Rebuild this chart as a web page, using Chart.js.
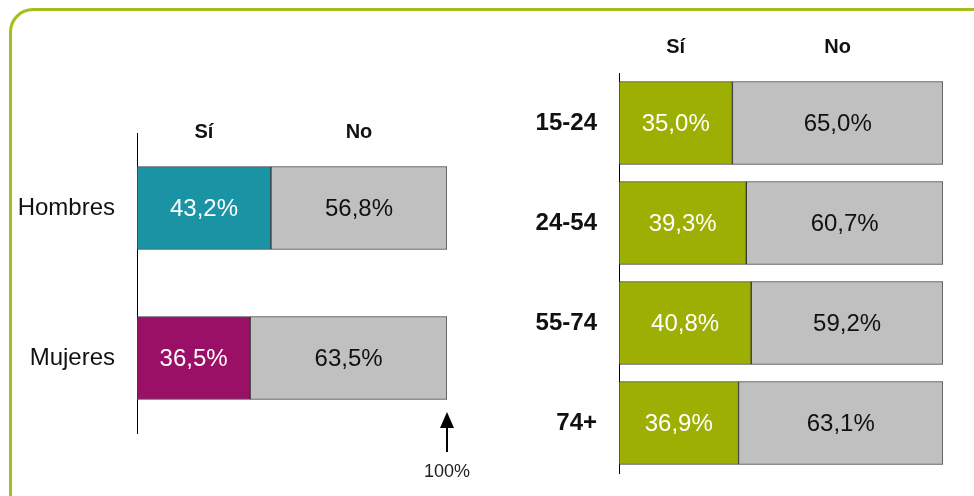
<!DOCTYPE html>
<html>
<head>
<meta charset="utf-8">
<script src="https://cdn.jsdelivr.net/npm/chart.js@4"></script>
<style>
    body { margin: 0; background: #fff; }
    #wrap { position: relative; width: 974px; height: 496px; overflow: hidden; }
    #frame {
        position: absolute; left: 9px; top: 8px; width: 990px; height: 510px;
        border: 3px solid #a6bd1c; border-radius: 24px; box-sizing: border-box;
    }
    canvas { position: absolute; top: 0; }
    #left { left: 0; }
    #right { left: 480px; }
</style>
</head>
<body>
<div id="wrap">
    <div id="frame"></div>
    <canvas id="left" width="480" height="496"></canvas>
    <canvas id="right" width="494" height="496"></canvas>
</div>
<script>
const seriesLabels = ['Sí', 'No'];

const sexCategories = ['Hombres', 'Mujeres'];
const sexSi = [43.2, 36.5];
const sexNo = [56.8, 63.5];

const ageCategories = ['15-24', '24-54', '55-74', '74+'];
const ageSi = [35.0, 39.3, 40.8, 36.9];
const ageNo = [65.0, 60.7, 59.2, 63.1];

const FONT = '"Liberation Sans", Arial, sans-serif';
const fmt = (v) => v.toFixed(1).replace('.', ',') + '%';

const barLabels = {
    id: 'barLabels',
    afterDatasetsDraw(chart, args, opts) {
        const ctx = chart.ctx;
        ctx.save();
        ctx.textAlign = 'center';
        ctx.textBaseline = 'middle';
        chart.data.datasets.forEach((ds, di) => {
            const meta = chart.getDatasetMeta(di);
            meta.data.forEach((el, i) => {
                ctx.font = '24px ' + FONT;
                ctx.fillStyle = di === 0 ? '#ffffff' : '#111111';
                ctx.fillText(fmt(ds.data[i]), (el.x + el.base) / 2, el.y + 1);
            });
            // column header above the first bar
            const first = meta.data[0];
            ctx.font = 'bold 20px ' + FONT;
            ctx.fillStyle = '#111111';
            ctx.fillText(seriesLabels[di], (first.x + first.base) / 2, first.y - first.height / 2 - 34);
        });

        if (opts.arrow) {
            const x = chart.chartArea.right;
            ctx.strokeStyle = '#000';
            ctx.fillStyle = '#000';
            ctx.lineWidth = 2;
            ctx.beginPath();
            ctx.moveTo(x, 452);
            ctx.lineTo(x, 424);
            ctx.stroke();
            ctx.beginPath();
            ctx.moveTo(x, 412);
            ctx.lineTo(x - 7, 428);
            ctx.lineTo(x + 7, 428);
            ctx.closePath();
            ctx.fill();
            ctx.font = '18px ' + FONT;
            ctx.fillStyle = '#222';
            ctx.fillText('100%', x, 472);
        }
        ctx.restore();
    }
};

const makeChart = (id, categories, si, no, siColors, cfg) => {
    const ctx = document.getElementById(id).getContext('2d');
    return new Chart(ctx, {
        type: 'bar',
        data: {
            labels: categories,
            datasets: [
                {
                    label: seriesLabels[0],
                    data: si,
                    backgroundColor: siColors,
                    borderColor: '#3a3a3a',
                    borderWidth: 1,
                    borderSkipped: false,
                    barThickness: 83
                },
                {
                    label: seriesLabels[1],
                    data: no,
                    backgroundColor: '#c0c0c0',
                    borderColor: '#3a3a3a',
                    borderWidth: 1,
                    borderSkipped: false,
                    barThickness: 83
                }
            ]
        },
        options: {
            indexAxis: 'y',
            responsive: false,
            animation: false,
            layout: { padding: cfg.padding },
            scales: {
                x: { stacked: true, min: 0, max: 100, display: false },
                y: {
                    stacked: true,
                    grid: { display: false },
                    border: { display: true, color: '#000', width: 1 },
                    ticks: {
                        padding: 14,
                        color: '#111',
                        font: { family: FONT, size: 24, weight: cfg.bold ? 'bold' : 'normal' }
                    },
                    afterFit: (scale) => {
                        scale.width = cfg.axisWidth;
                        scale.paddingTop = 0;
                        scale.paddingBottom = 0;
                    }
                }
            },
            plugins: {
                legend: { display: false },
                tooltip: { enabled: false },
                barLabels: { arrow: cfg.arrow }
            }
        },
        plugins: [barLabels]
    });
};

makeChart('left', sexCategories, sexSi, sexNo, ['#1a93a5', '#9a1066'], {
    padding: { left: 0, top: 133, right: 33, bottom: 63 },
    axisWidth: 137,
    bold: false,
    arrow: true
});

makeChart('right', ageCategories, ageSi, ageNo, '#9caf02', {
    padding: { left: 0, top: 73, right: 31, bottom: 23 },
    axisWidth: 139,
    bold: true,
    arrow: false
});
</script>
</body>
</html>
